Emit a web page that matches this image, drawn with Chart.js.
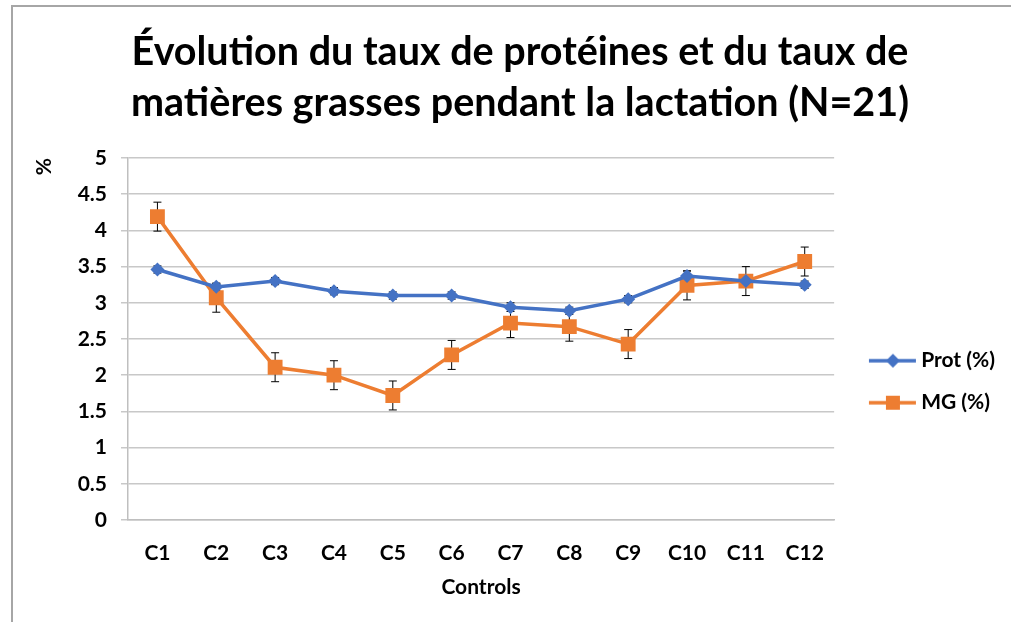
<!DOCTYPE html>
<html>
<head>
<meta charset="utf-8">
<script src="https://cdn.jsdelivr.net/npm/chart.js@4.4.1/dist/chart.umd.min.js"></script>
<style>
  html, body { margin: 0; padding: 0; background: #fff; }
  #wrap { width: 1011px; height: 622px; }
</style>
</head>
<body>
<div id="wrap"><canvas id="myChart"></canvas></div>
<script>
// data
const controls = ['C1', 'C2', 'C3', 'C4', 'C5', 'C6', 'C7', 'C8', 'C9', 'C10', 'C11', 'C12'];
const protValues = [3.46, 3.22, 3.30, 3.16, 3.10, 3.10, 2.94, 2.89, 3.05, 3.37, 3.30, 3.25];
const protErrors = [0.05, 0.05, 0.05, 0.05, 0.05, 0.05, 0.06, 0.05, 0.05, 0.07, 0.05, 0.05];
const mgValues = [4.19, 3.07, 2.11, 2.00, 1.72, 2.28, 2.72, 2.67, 2.43, 3.24, 3.30, 3.57];
const mgErrors = [0.2, 0.2, 0.2, 0.2, 0.2, 0.2, 0.2, 0.2, 0.2, 0.2, 0.2, 0.2];
const yTicks = [0, 0.5, 1, 1.5, 2, 2.5, 3, 3.5, 4, 4.5, 5];

const titleLines = ['Évolution du taux de protéines et du taux de', 'matières grasses pendant la lactation (N=21)'];
const blue = '#4472C4';
const orange = '#ED7D31';
const labelFont = { family: 'Lato', size: 21, weight: 'bold' };

// legend symbol: short line with the marker on it
function legendSymbol(color, shape) {
  var c = document.createElement('canvas');
  c.width = 68;
  c.height = 20;
  var g = c.getContext('2d');
  g.strokeStyle = color;
  g.lineWidth = 3.5;
  g.beginPath();
  g.moveTo(20, 10);
  g.lineTo(67, 10);
  g.stroke();
  g.fillStyle = color;
  if (shape === 'diamond') {
    g.beginPath();
    g.moveTo(44, 3); g.lineTo(51, 10); g.lineTo(44, 17); g.lineTo(37, 10);
    g.closePath();
    g.fill();
  } else {
    g.fillRect(37, 3, 14, 14);
  }
  return c;
}

const frame = {
  id: 'frame',
  beforeDraw(chart) {
    const ctx = chart.ctx;
    ctx.save();
    ctx.fillStyle = '#fff';
    ctx.fillRect(0, 0, chart.width, chart.height);
    ctx.strokeStyle = '#a6a6a6';
    ctx.lineWidth = 2;
    ctx.beginPath();
    ctx.moveTo(12, chart.height);
    ctx.lineTo(12, 6);
    ctx.lineTo(chart.width, 6);
    ctx.stroke();
    ctx.restore();
  }
};

const errorBars = {
  id: 'errorBars',
  beforeDatasetsDraw(chart) {
    const ctx = chart.ctx;
    const yScale = chart.scales.y;
    ctx.save();
    ctx.strokeStyle = '#000';
    ctx.lineWidth = 1;
    chart.data.datasets.forEach((ds, i) => {
      if (!ds.errors) return;
      chart.getDatasetMeta(i).data.forEach((pt, j) => {
        const top = yScale.getPixelForValue(ds.data[j] + ds.errors[j]);
        const bot = yScale.getPixelForValue(ds.data[j] - ds.errors[j]);
        ctx.beginPath();
        ctx.moveTo(pt.x, top); ctx.lineTo(pt.x, bot);
        ctx.moveTo(pt.x - 4, top); ctx.lineTo(pt.x + 4, top);
        ctx.moveTo(pt.x - 4, bot); ctx.lineTo(pt.x + 4, bot);
        ctx.stroke();
      });
    });
    ctx.restore();
  }
};

const protSymbol = legendSymbol(blue, 'diamond');
const mgSymbol = legendSymbol(orange, 'square');

new Chart(document.getElementById('myChart'), {
  type: 'line',
  data: {
    labels: controls,
    datasets: [{
      label: 'Prot (%)',
      data: protValues,
      errors: protErrors,
      borderColor: blue,
      backgroundColor: blue,
      borderWidth: 3.5,
      pointStyle: 'rectRot',
      pointRadius: 7,
      pointBorderWidth: 0,
      pointHoverRadius: 7
    }, {
      label: 'MG (%)',
      data: mgValues,
      errors: mgErrors,
      borderColor: orange,
      backgroundColor: orange,
      borderWidth: 3.5,
      pointStyle: 'rect',
      pointRadius: 10.5,
      pointBorderWidth: 0,
      pointHoverRadius: 10.5
    }]
  },
  options: {
    responsive: true,
    maintainAspectRatio: false,
    animation: false,
    layout: { padding: { left: 35, right: 6, top: 0, bottom: 0 } },
    plugins: {
      title: {
        display: true,
        text: titleLines,
        color: '#000',
        font: { family: 'Lato', size: 39.5, weight: 'bold', lineHeight: '51px' },
        padding: { top: 27, bottom: 29 }
      },
      legend: {
        position: 'right',
        title: { display: true, text: '', padding: { top: 127, bottom: 0 } },
        labels: {
          color: '#000',
          font: labelFont,
          usePointStyle: true,
          pointStyleWidth: 55.5,
          padding: 21,
          generateLabels: () => [
            { text: 'Prot (%)', pointStyle: protSymbol, fontColor: '#000', datasetIndex: 0, lineWidth: 0 },
            { text: 'MG (%)', pointStyle: mgSymbol, fontColor: '#000', datasetIndex: 1, lineWidth: 0 }
          ]
        }
      },
      tooltip: { enabled: false }
    },
    scales: {
      x: {
        offset: true,
        grid: { drawOnChartArea: false, drawTicks: false },
        border: { color: '#bfbfbf', width: 1.5 },
        ticks: { color: '#000', font: labelFont, padding: 21 },
        title: { display: true, text: 'Controls', color: '#000', font: labelFont, padding: { top: 0, bottom: 22 } },
        afterFit: scale => { scale.height = 102; }
      },
      y: {
        min: 0,
        max: 5,
        afterBuildTicks: scale => { scale.ticks = yTicks.map(v => ({ value: v })); },
        grid: { color: '#c8c8c8', lineWidth: 1.5, tickLength: 7 },
        border: { color: '#bfbfbf', width: 1.5 },
        ticks: { color: '#000', font: labelFont, padding: 14, callback: v => String(v) },
        title: { display: true, text: '%', align: 'end', color: '#000', font: labelFont, padding: { top: -3, bottom: 0 } },
        afterFit: scale => { scale.width = 93; }
      }
    }
  },
  plugins: [frame, errorBars]
});
</script>
</body>
</html>
